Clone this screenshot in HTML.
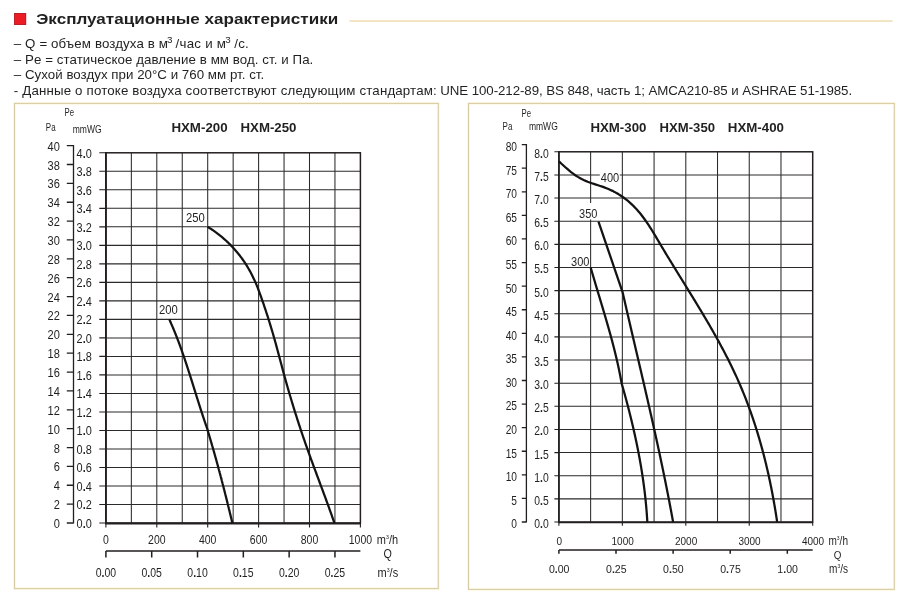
<!DOCTYPE html><html><head><meta charset="utf-8"><style>html,body{margin:0;padding:0;background:#fff;width:903px;height:597px;overflow:hidden}svg{display:block}text{filter:grayscale(1)}text{font-family:'Liberation Sans', sans-serif}</style></head><body>
<svg width="903" height="597" viewBox="0 0 903 597">
<rect width="903" height="597" fill="#fff"/>
<rect x="14.1" y="13" width="12" height="12" fill="#ec1c24"/>
<rect x="14.5" y="13.4" width="11.2" height="11.2" fill="none" stroke="#b01e2a" stroke-width="0.8"/>
<text x="36.20" y="24.10" text-anchor="start" font-size="15.0" font-weight="bold" fill="#231f20" textLength="302.00" lengthAdjust="spacingAndGlyphs">Эксплуатационные характеристики</text>
<line x1="349.5" y1="21" x2="892.6" y2="21" stroke="#eddcb0" stroke-width="1.6"/>
<text x="13.80" y="47.60" font-size="13.3" fill="#231f20" textLength="154.10" lengthAdjust="spacing">– Q = объем воздуха в м</text>
<text x="167.00" y="43.40" text-anchor="start" font-size="9.8" font-weight="normal" fill="#231f20">3</text>
<text x="175.60" y="47.60" font-size="13.3" fill="#231f20" textLength="50.40" lengthAdjust="spacing">/час и м</text>
<text x="225.30" y="43.40" text-anchor="start" font-size="9.8" font-weight="normal" fill="#231f20">3</text>
<text x="234.20" y="47.60" font-size="13.3" fill="#231f20" textLength="14.60" lengthAdjust="spacing">/с.</text>
<text x="13.80" y="63.50" font-size="13.3" fill="#231f20" textLength="299.50" lengthAdjust="spacing">– Pe = статическое давление в мм вод. ст. и Па.</text>
<text x="13.80" y="78.60" font-size="13.3" fill="#231f20" textLength="250.40" lengthAdjust="spacing">– Сухой воздух при 20°C и 760 мм рт. ст.</text>
<text x="13.80" y="94.60" font-size="13.3" fill="#231f20" textLength="423.00" lengthAdjust="spacing">- Данные о потоке воздуха соответствуют следующим стандартам:</text>
<text x="440.20" y="94.60" font-size="13.3" fill="#231f20" textLength="411.90" lengthAdjust="spacing">UNE 100-212-89, BS 848, часть 1; AMCA210-85 и ASHRAE 51-1985.</text>
<rect x="14.5" y="103.4" width="423.8" height="485.2" fill="#fff" stroke="#fcf7e0" stroke-width="2.6"/>
<rect x="14.5" y="103.4" width="423.8" height="485.2" fill="none" stroke="#d6caa2" stroke-width="1"/>
<rect x="468.5" y="103.4" width="425.8" height="486" fill="#fff" stroke="#fcf7e0" stroke-width="2.6"/>
<rect x="468.5" y="103.4" width="425.8" height="486" fill="none" stroke="#d6caa2" stroke-width="1"/>
<path d="M131.35,152.80V523.00 M156.80,152.80V523.00 M182.25,152.80V523.00 M207.70,152.80V523.00 M233.15,152.80V523.00 M258.60,152.80V523.00 M284.05,152.80V523.00 M309.50,152.80V523.00 M334.95,152.80V523.00 M105.90,504.49H360.40 M105.90,485.98H360.40 M105.90,467.47H360.40 M105.90,448.96H360.40 M105.90,430.45H360.40 M105.90,411.94H360.40 M105.90,393.43H360.40 M105.90,374.92H360.40 M105.90,356.41H360.40 M105.90,337.90H360.40 M105.90,319.39H360.40 M105.90,300.88H360.40 M105.90,282.37H360.40 M105.90,263.86H360.40 M105.90,245.35H360.40 M105.90,226.84H360.40 M105.90,208.33H360.40 M105.90,189.82H360.40 M105.90,171.31H360.40" stroke="#2b2b2b" stroke-width="1.05" fill="none"/>
<path d="M99.30,523.00H105.90 M99.30,504.49H105.90 M99.30,485.98H105.90 M99.30,467.47H105.90 M99.30,448.96H105.90 M99.30,430.45H105.90 M99.30,411.94H105.90 M99.30,393.43H105.90 M99.30,374.92H105.90 M99.30,356.41H105.90 M99.30,337.90H105.90 M99.30,319.39H105.90 M99.30,300.88H105.90 M99.30,282.37H105.90 M99.30,263.86H105.90 M99.30,245.35H105.90 M99.30,226.84H105.90 M99.30,208.33H105.90 M99.30,189.82H105.90 M99.30,171.31H105.90 M99.30,152.80H105.90 M105.90,523.00V527.60 M156.80,523.00V527.60 M207.70,523.00V527.60 M258.60,523.00V527.60 M309.50,523.00V527.60 M360.40,523.00V527.60" stroke="#231f20" stroke-width="1.1" fill="none"/>
<rect x="105.90" y="152.80" width="254.50" height="370.20" stroke="#231f20" stroke-width="1.5" fill="none"/>
<path d="M105.90,152.30V523.50H360.40" stroke="#231f20" stroke-width="1.8" fill="none"/>
<path d="M73.50,145.03V523.60 M66.80,523.00H73.50 M66.80,504.13H73.50 M66.80,485.26H73.50 M66.80,466.39H73.50 M66.80,447.53H73.50 M66.80,428.66H73.50 M66.80,409.79H73.50 M66.80,390.92H73.50 M66.80,372.05H73.50 M66.80,353.18H73.50 M66.80,334.31H73.50 M66.80,315.45H73.50 M66.80,296.58H73.50 M66.80,277.71H73.50 M66.80,258.84H73.50 M66.80,239.97H73.50 M66.80,221.10H73.50 M66.80,202.24H73.50 M66.80,183.37H73.50 M66.80,164.50H73.50 M66.80,145.63H73.50" stroke="#231f20" stroke-width="1.3" fill="none"/>
<text transform="translate(59.80,528.00) scale(0.85,1)" text-anchor="end" font-size="13.0" font-weight="normal" fill="#231f20">0</text>
<text transform="translate(59.80,509.13) scale(0.85,1)" text-anchor="end" font-size="13.0" font-weight="normal" fill="#231f20">2</text>
<text transform="translate(59.80,490.26) scale(0.85,1)" text-anchor="end" font-size="13.0" font-weight="normal" fill="#231f20">4</text>
<text transform="translate(59.80,471.39) scale(0.85,1)" text-anchor="end" font-size="13.0" font-weight="normal" fill="#231f20">6</text>
<text transform="translate(59.80,452.53) scale(0.85,1)" text-anchor="end" font-size="13.0" font-weight="normal" fill="#231f20">8</text>
<text transform="translate(59.80,433.66) scale(0.85,1)" text-anchor="end" font-size="13.0" font-weight="normal" fill="#231f20">10</text>
<text transform="translate(59.80,414.79) scale(0.85,1)" text-anchor="end" font-size="13.0" font-weight="normal" fill="#231f20">12</text>
<text transform="translate(59.80,395.92) scale(0.85,1)" text-anchor="end" font-size="13.0" font-weight="normal" fill="#231f20">14</text>
<text transform="translate(59.80,377.05) scale(0.85,1)" text-anchor="end" font-size="13.0" font-weight="normal" fill="#231f20">16</text>
<text transform="translate(59.80,358.18) scale(0.85,1)" text-anchor="end" font-size="13.0" font-weight="normal" fill="#231f20">18</text>
<text transform="translate(59.80,339.31) scale(0.85,1)" text-anchor="end" font-size="13.0" font-weight="normal" fill="#231f20">20</text>
<text transform="translate(59.80,320.45) scale(0.85,1)" text-anchor="end" font-size="13.0" font-weight="normal" fill="#231f20">22</text>
<text transform="translate(59.80,301.58) scale(0.85,1)" text-anchor="end" font-size="13.0" font-weight="normal" fill="#231f20">24</text>
<text transform="translate(59.80,282.71) scale(0.85,1)" text-anchor="end" font-size="13.0" font-weight="normal" fill="#231f20">26</text>
<text transform="translate(59.80,263.84) scale(0.85,1)" text-anchor="end" font-size="13.0" font-weight="normal" fill="#231f20">28</text>
<text transform="translate(59.80,244.97) scale(0.85,1)" text-anchor="end" font-size="13.0" font-weight="normal" fill="#231f20">30</text>
<text transform="translate(59.80,226.10) scale(0.85,1)" text-anchor="end" font-size="13.0" font-weight="normal" fill="#231f20">32</text>
<text transform="translate(59.80,207.24) scale(0.85,1)" text-anchor="end" font-size="13.0" font-weight="normal" fill="#231f20">34</text>
<text transform="translate(59.80,188.37) scale(0.85,1)" text-anchor="end" font-size="13.0" font-weight="normal" fill="#231f20">36</text>
<text transform="translate(59.80,169.50) scale(0.85,1)" text-anchor="end" font-size="13.0" font-weight="normal" fill="#231f20">38</text>
<text transform="translate(59.80,150.63) scale(0.85,1)" text-anchor="end" font-size="13.0" font-weight="normal" fill="#231f20">40</text>
<text transform="translate(76.60,527.90) scale(0.84,1)" text-anchor="start" font-size="13.0" font-weight="normal" fill="#231f20">0<tspan font-weight="bold">.</tspan>0</text>
<text transform="translate(76.60,509.39) scale(0.84,1)" text-anchor="start" font-size="13.0" font-weight="normal" fill="#231f20">0<tspan font-weight="bold">.</tspan>2</text>
<text transform="translate(76.60,490.88) scale(0.84,1)" text-anchor="start" font-size="13.0" font-weight="normal" fill="#231f20">0<tspan font-weight="bold">.</tspan>4</text>
<text transform="translate(76.60,472.37) scale(0.84,1)" text-anchor="start" font-size="13.0" font-weight="normal" fill="#231f20">0<tspan font-weight="bold">.</tspan>6</text>
<text transform="translate(76.60,453.86) scale(0.84,1)" text-anchor="start" font-size="13.0" font-weight="normal" fill="#231f20">0<tspan font-weight="bold">.</tspan>8</text>
<text transform="translate(76.60,435.35) scale(0.84,1)" text-anchor="start" font-size="13.0" font-weight="normal" fill="#231f20">1<tspan font-weight="bold">.</tspan>0</text>
<text transform="translate(76.60,416.84) scale(0.84,1)" text-anchor="start" font-size="13.0" font-weight="normal" fill="#231f20">1<tspan font-weight="bold">.</tspan>2</text>
<text transform="translate(76.60,398.33) scale(0.84,1)" text-anchor="start" font-size="13.0" font-weight="normal" fill="#231f20">1<tspan font-weight="bold">.</tspan>4</text>
<text transform="translate(76.60,379.82) scale(0.84,1)" text-anchor="start" font-size="13.0" font-weight="normal" fill="#231f20">1<tspan font-weight="bold">.</tspan>6</text>
<text transform="translate(76.60,361.31) scale(0.84,1)" text-anchor="start" font-size="13.0" font-weight="normal" fill="#231f20">1<tspan font-weight="bold">.</tspan>8</text>
<text transform="translate(76.60,342.80) scale(0.84,1)" text-anchor="start" font-size="13.0" font-weight="normal" fill="#231f20">2<tspan font-weight="bold">.</tspan>0</text>
<text transform="translate(76.60,324.29) scale(0.84,1)" text-anchor="start" font-size="13.0" font-weight="normal" fill="#231f20">2<tspan font-weight="bold">.</tspan>2</text>
<text transform="translate(76.60,305.78) scale(0.84,1)" text-anchor="start" font-size="13.0" font-weight="normal" fill="#231f20">2<tspan font-weight="bold">.</tspan>4</text>
<text transform="translate(76.60,287.27) scale(0.84,1)" text-anchor="start" font-size="13.0" font-weight="normal" fill="#231f20">2<tspan font-weight="bold">.</tspan>6</text>
<text transform="translate(76.60,268.76) scale(0.84,1)" text-anchor="start" font-size="13.0" font-weight="normal" fill="#231f20">2<tspan font-weight="bold">.</tspan>8</text>
<text transform="translate(76.60,250.25) scale(0.84,1)" text-anchor="start" font-size="13.0" font-weight="normal" fill="#231f20">3<tspan font-weight="bold">.</tspan>0</text>
<text transform="translate(76.60,231.74) scale(0.84,1)" text-anchor="start" font-size="13.0" font-weight="normal" fill="#231f20">3<tspan font-weight="bold">.</tspan>2</text>
<text transform="translate(76.60,213.23) scale(0.84,1)" text-anchor="start" font-size="13.0" font-weight="normal" fill="#231f20">3<tspan font-weight="bold">.</tspan>4</text>
<text transform="translate(76.60,194.72) scale(0.84,1)" text-anchor="start" font-size="13.0" font-weight="normal" fill="#231f20">3<tspan font-weight="bold">.</tspan>6</text>
<text transform="translate(76.60,176.21) scale(0.84,1)" text-anchor="start" font-size="13.0" font-weight="normal" fill="#231f20">3<tspan font-weight="bold">.</tspan>8</text>
<text transform="translate(76.60,157.70) scale(0.84,1)" text-anchor="start" font-size="13.0" font-weight="normal" fill="#231f20">4<tspan font-weight="bold">.</tspan>0</text>
<text transform="translate(105.90,544.10) scale(0.82,1)" text-anchor="middle" font-size="12.8" font-weight="normal" fill="#231f20">0</text>
<text transform="translate(156.80,544.10) scale(0.82,1)" text-anchor="middle" font-size="12.8" font-weight="normal" fill="#231f20">200</text>
<text transform="translate(207.70,544.10) scale(0.82,1)" text-anchor="middle" font-size="12.8" font-weight="normal" fill="#231f20">400</text>
<text transform="translate(258.60,544.10) scale(0.82,1)" text-anchor="middle" font-size="12.8" font-weight="normal" fill="#231f20">600</text>
<text transform="translate(309.50,544.10) scale(0.82,1)" text-anchor="middle" font-size="12.8" font-weight="normal" fill="#231f20">800</text>
<text transform="translate(360.40,544.10) scale(0.82,1)" text-anchor="middle" font-size="12.8" font-weight="normal" fill="#231f20">1000</text>
<path d="M105.90,551.00H360.40 M105.90,551.00V557.60 M151.71,551.00V557.60 M197.52,551.00V557.60 M243.33,551.00V557.60 M289.14,551.00V557.60 M334.95,551.00V557.60" stroke="#231f20" stroke-width="1.5" fill="none"/>
<text transform="translate(105.90,576.70) scale(0.82,1)" text-anchor="middle" font-size="12.8" font-weight="normal" fill="#231f20">0<tspan font-weight="bold">.</tspan>00</text>
<text transform="translate(151.71,576.70) scale(0.82,1)" text-anchor="middle" font-size="12.8" font-weight="normal" fill="#231f20">0<tspan font-weight="bold">.</tspan>05</text>
<text transform="translate(197.52,576.70) scale(0.82,1)" text-anchor="middle" font-size="12.8" font-weight="normal" fill="#231f20">0<tspan font-weight="bold">.</tspan>10</text>
<text transform="translate(243.33,576.70) scale(0.82,1)" text-anchor="middle" font-size="12.8" font-weight="normal" fill="#231f20">0<tspan font-weight="bold">.</tspan>15</text>
<text transform="translate(289.14,576.70) scale(0.82,1)" text-anchor="middle" font-size="12.8" font-weight="normal" fill="#231f20">0<tspan font-weight="bold">.</tspan>20</text>
<text transform="translate(334.95,576.70) scale(0.82,1)" text-anchor="middle" font-size="12.8" font-weight="normal" fill="#231f20">0<tspan font-weight="bold">.</tspan>25</text>
<text transform="translate(376.80,544.10) scale(0.88,1)" text-anchor="start" font-size="12.5" font-weight="normal" fill="#231f20">m<tspan font-size="6" dy="-5">3</tspan><tspan dy="5">/h</tspan></text>
<text transform="translate(387.70,558.30) scale(0.88,1)" text-anchor="middle" font-size="12.2" font-weight="normal" fill="#231f20">Q</text>
<text transform="translate(377.50,576.70) scale(0.88,1)" text-anchor="start" font-size="12.5" font-weight="normal" fill="#231f20">m<tspan font-size="6" dy="-5">3</tspan><tspan dy="5">/s</tspan></text>
<text transform="translate(64.60,115.90) scale(0.72,1)" text-anchor="start" font-size="10.8" font-weight="normal" fill="#231f20">Pe</text>
<text transform="translate(45.80,130.60) scale(0.74,1)" text-anchor="start" font-size="10.8" font-weight="normal" fill="#231f20">Pa</text>
<text transform="translate(72.70,132.60) scale(0.79,1)" text-anchor="start" font-size="10.8" font-weight="normal" fill="#231f20">mmWG</text>
<text x="171.40" y="132.20" text-anchor="start" font-size="13" font-weight="bold" fill="#231f20" textLength="56.20" lengthAdjust="spacingAndGlyphs">HXM-200</text>
<text x="240.50" y="132.20" text-anchor="start" font-size="13" font-weight="bold" fill="#231f20" textLength="56.00" lengthAdjust="spacingAndGlyphs">HXM-250</text>
<path d="M169.26,319.29 L169.51,319.83 L169.75,320.36 L169.99,320.90 L170.23,321.44 L170.47,321.98 L170.71,322.52 L170.95,323.06 L171.19,323.60 L171.42,324.15 L171.66,324.69 L171.89,325.23 L172.13,325.77 L172.36,326.32 L172.59,326.86 L172.82,327.40 L173.05,327.95 L173.28,328.49 L173.51,329.04 L173.73,329.58 L173.96,330.13 L174.18,330.67 L174.41,331.22 L174.63,331.77 L174.85,332.32 L175.07,332.86 L175.29,333.41 L175.51,333.96 L175.73,334.51 L175.95,335.06 L176.17,335.61 L176.38,336.16 L176.60,336.71 L176.81,337.26 L177.03,337.81 L177.24,338.36 L177.45,338.91 L177.66,339.46 L177.87,340.01 L178.08,340.56 L178.29,341.12 L178.50,341.67 L178.71,342.22 L178.92,342.77 L179.12,343.33 L179.33,343.88 L179.53,344.44 L179.74,344.99 L179.94,345.55 L180.14,346.10 L180.35,346.66 L180.55,347.21 L180.75,347.77 L180.95,348.32 L181.15,348.88 L181.35,349.44 L181.54,349.99 L181.74,350.55 L181.94,351.11 L182.14,351.66 L182.33,352.22 L182.53,352.78 L182.72,353.34 L182.92,353.90 L183.11,354.45 L183.30,355.01 L183.50,355.57 L183.69,356.13 L183.88,356.69 L184.07,357.25 L184.26,357.81 L184.45,358.37 L184.64,358.93 L184.83,359.49 L185.02,360.05 L185.21,360.61 L185.40,361.17 L185.58,361.73 L185.77,362.29 L185.96,362.86 L186.14,363.42 L186.33,363.98 L186.52,364.54 L186.70,365.10 L186.89,365.66 L187.07,366.23 L187.25,366.79 L187.44,367.35 L187.62,367.91 L187.80,368.48 L187.99,369.04 L188.17,369.60 L188.35,370.17 L188.53,370.73 L188.71,371.29 L188.89,371.86 L189.08,372.42 L189.26,372.98 L189.44,373.55 L189.62,374.11 L189.80,374.68 L189.98,375.24 L190.16,375.80 L190.33,376.37 L190.51,376.93 L190.69,377.50 L190.87,378.06 L191.05,378.63 L191.23,379.19 L191.41,379.76 L191.58,380.32 L191.76,380.89 L191.94,381.45 L192.12,382.02 L192.29,382.58 L192.47,383.15 L192.65,383.71 L192.83,384.28 L193.00,384.84 L193.18,385.41 L193.36,385.97 L193.53,386.54 L193.71,387.10 L193.89,387.67 L194.06,388.23 L194.24,388.80 L194.42,389.36 L194.59,389.93 L194.77,390.49 L194.95,391.06 L195.12,391.62 L195.30,392.19 L195.48,392.75 L195.65,393.32 L195.83,393.88 L196.01,394.45 L196.18,395.01 L196.36,395.58 L196.54,396.14 L196.71,396.71 L196.89,397.27 L197.07,397.84 L197.25,398.40 L197.42,398.97 L197.60,399.53 L197.78,400.10 L197.96,400.66 L198.14,401.23 L198.31,401.79 L198.49,402.36 L198.67,402.92 L198.85,403.48 L199.03,404.05 L199.21,404.61 L199.39,405.18 L199.57,405.74 L199.75,406.30 L199.93,406.87 L200.11,407.43 L200.29,407.99 L200.47,408.56 L200.65,409.12 L200.83,409.68 L201.01,410.25 L201.20,410.81 L201.38,411.37 L201.56,411.94 L201.74,412.50 L201.93,413.06 L202.11,413.62 L202.30,414.18 L202.48,414.75 L202.66,415.31 L202.85,415.87 L203.04,416.43 L203.22,416.99 L203.41,417.55 L203.59,418.11 L203.78,418.67 L203.97,419.23 L204.16,419.79 L204.35,420.35 L204.54,420.91 L204.72,421.47 L204.91,422.03 L205.10,422.59 L205.30,423.15 L205.49,423.71 L205.68,424.27 L205.87,424.83 L206.06,425.39 L206.26,425.94 L206.45,426.50 L206.65,427.06 L206.84,427.62 L207.04,428.17 L207.23,428.73 L207.43,429.29 L207.63,429.84 L207.83,430.40 L207.81,430.92 L207.95,431.38 L208.09,431.84 L208.23,432.30 L208.37,432.76 L208.51,433.22 L208.65,433.68 L208.79,434.14 L208.93,434.61 L209.07,435.07 L209.20,435.53 L209.34,435.99 L209.48,436.45 L209.62,436.91 L209.76,437.37 L209.89,437.83 L210.03,438.30 L210.17,438.76 L210.30,439.22 L210.44,439.68 L210.58,440.14 L210.71,440.60 L210.85,441.07 L210.98,441.53 L211.12,441.99 L211.26,442.45 L211.39,442.91 L211.53,443.38 L211.66,443.84 L211.80,444.30 L211.93,444.76 L212.06,445.23 L212.20,445.69 L212.33,446.15 L212.47,446.61 L212.60,447.08 L212.73,447.54 L212.87,448.00 L213.00,448.46 L213.13,448.93 L213.26,449.39 L213.40,449.85 L213.53,450.31 L213.66,450.78 L213.79,451.24 L213.93,451.70 L214.06,452.17 L214.19,452.63 L214.32,453.09 L214.45,453.56 L214.58,454.02 L214.71,454.48 L214.84,454.95 L214.97,455.41 L215.10,455.87 L215.23,456.34 L215.36,456.80 L215.49,457.26 L215.62,457.73 L215.75,458.19 L215.88,458.65 L216.01,459.12 L216.14,459.58 L216.27,460.05 L216.40,460.51 L216.52,460.97 L216.65,461.44 L216.78,461.90 L216.91,462.37 L217.04,462.83 L217.16,463.29 L217.29,463.76 L217.42,464.22 L217.55,464.69 L217.67,465.15 L217.80,465.62 L217.93,466.08 L218.05,466.54 L218.18,467.01 L218.30,467.47 L218.43,467.94 L218.56,468.40 L218.68,468.87 L218.81,469.33 L218.93,469.80 L219.06,470.26 L219.18,470.73 L219.31,471.19 L219.43,471.66 L219.56,472.12 L219.68,472.59 L219.81,473.05 L219.93,473.52 L220.05,473.98 L220.18,474.45 L220.30,474.91 L220.43,475.38 L220.55,475.84 L220.67,476.31 L220.80,476.77 L220.92,477.24 L221.04,477.70 L221.16,478.17 L221.29,478.63 L221.41,479.10 L221.53,479.57 L221.65,480.03 L221.77,480.50 L221.90,480.96 L222.02,481.43 L222.14,481.89 L222.26,482.36 L222.38,482.83 L222.50,483.29 L222.62,483.76 L222.75,484.22 L222.87,484.69 L222.99,485.16 L223.11,485.62 L223.23,486.09 L223.35,486.55 L223.47,487.02 L223.59,487.49 L223.71,487.95 L223.83,488.42 L223.95,488.88 L224.07,489.35 L224.19,489.82 L224.31,490.28 L224.42,490.75 L224.54,491.22 L224.66,491.68 L224.78,492.15 L224.90,492.62 L225.02,493.08 L225.14,493.55 L225.25,494.02 L225.37,494.48 L225.49,494.95 L225.61,495.42 L225.73,495.88 L225.84,496.35 L225.96,496.82 L226.08,497.28 L226.19,497.75 L226.31,498.22 L226.43,498.68 L226.55,499.15 L226.66,499.62 L226.78,500.09 L226.90,500.55 L227.01,501.02 L227.13,501.49 L227.24,501.95 L227.36,502.42 L227.48,502.89 L227.59,503.36 L227.71,503.82 L227.82,504.29 L227.94,504.76 L228.05,505.23 L228.17,505.69 L228.28,506.16 L228.40,506.63 L228.51,507.10 L228.63,507.56 L228.74,508.03 L228.86,508.50 L228.97,508.97 L229.09,509.43 L229.20,509.90 L229.32,510.37 L229.43,510.84 L229.54,511.30 L229.66,511.77 L229.77,512.24 L229.89,512.71 L230.00,513.18 L230.11,513.64 L230.23,514.11 L230.34,514.58 L230.45,515.05 L230.57,515.52 L230.68,515.98 L230.79,516.45 L230.90,516.92 L231.02,517.39 L231.13,517.86 L231.24,518.32 L231.36,518.79 L231.47,519.26 L231.58,519.73 L231.69,520.20 L231.80,520.66 L231.92,521.13 L232.03,521.60 L232.14,522.07 L232.25,522.54 L232.36,523.01" stroke="#141213" stroke-width="2.25" fill="none" stroke-linecap="butt" stroke-linejoin="round"/>
<path d="M207.68,226.87 L209.08,227.73 L210.47,228.61 L211.84,229.52 L213.21,230.44 L214.56,231.38 L215.90,232.35 L217.22,233.33 L218.53,234.33 L219.83,235.35 L221.12,236.39 L222.38,237.45 L223.64,238.53 L224.88,239.62 L226.11,240.73 L227.32,241.86 L228.51,243.00 L229.69,244.16 L230.85,245.34 L232.00,246.53 L233.13,247.74 L234.24,248.97 L235.33,250.20 L236.41,251.46 L237.47,252.73 L238.51,254.01 L239.54,255.30 L240.54,256.61 L241.53,257.93 L242.49,259.27 L243.44,260.62 L244.37,261.98 L245.28,263.35 L246.17,264.73 L247.04,266.13 L247.88,267.54 L248.71,268.95 L249.52,270.38 L250.31,271.82 L251.09,273.27 L251.84,274.72 L252.58,276.19 L253.30,277.66 L254.00,279.15 L254.68,280.64 L255.35,282.14 L256.00,283.65 L256.63,285.16 L257.25,286.68 L257.85,288.21 L258.45,289.74 L259.03,291.28 L259.60,292.82 L260.16,294.36 L260.72,295.91 L261.27,297.46 L261.81,299.02 L262.36,300.57 L262.89,302.13 L263.43,303.69 L263.96,305.25 L264.48,306.81 L265.01,308.37 L265.53,309.94 L266.04,311.51 L266.56,313.07 L267.07,314.64 L267.57,316.21 L268.07,317.78 L268.57,319.35 L269.07,320.93 L269.56,322.50 L270.04,324.08 L270.53,325.65 L271.01,327.23 L271.48,328.81 L271.96,330.39 L272.42,331.97 L272.89,333.55 L273.35,335.14 L273.80,336.72 L274.26,338.31 L274.70,339.89 L275.15,341.48 L275.59,343.07 L276.03,344.65 L276.46,346.24 L276.90,347.83 L277.33,349.42 L277.76,351.01 L278.18,352.60 L278.61,354.19 L279.03,355.78 L279.46,357.37 L279.88,358.97 L280.30,360.56 L280.72,362.15 L281.15,363.74 L281.57,365.33 L281.99,366.92 L282.42,368.51 L282.85,370.10 L283.27,371.69 L283.70,373.28 L284.14,374.87 L284.57,376.46 L285.01,378.05 L285.45,379.63 L285.89,381.22 L286.34,382.80 L286.79,384.39 L287.24,385.97 L287.69,387.56 L288.14,389.14 L288.60,390.72 L289.06,392.31 L289.53,393.89 L289.99,395.47 L290.46,397.05 L290.93,398.63 L291.40,400.20 L291.88,401.78 L292.36,403.36 L292.84,404.94 L293.32,406.51 L293.81,408.09 L294.29,409.66 L294.78,411.23 L295.28,412.81 L295.77,414.38 L296.27,415.95 L296.77,417.52 L297.27,419.09 L297.78,420.66 L298.29,422.22 L298.80,423.79 L299.31,425.36 L299.83,426.92 L300.34,428.49 L300.86,430.05 L301.39,431.61 L301.91,433.18 L302.44,434.74 L302.97,436.30 L303.50,437.86 L304.04,439.41 L304.58,440.97 L305.12,442.53 L305.66,444.08 L306.20,445.64 L306.75,447.19 L307.30,448.75 L307.85,450.30 L308.41,451.85 L308.96,453.40 L309.52,454.95 L310.08,456.50 L310.64,458.04 L311.21,459.59 L311.77,461.14 L312.34,462.68 L312.91,464.23 L313.48,465.77 L314.05,467.32 L314.62,468.86 L315.20,470.41 L315.77,471.95 L316.35,473.49 L316.92,475.04 L317.50,476.58 L318.07,478.12 L318.65,479.67 L319.23,481.21 L319.80,482.75 L320.38,484.29 L320.95,485.84 L321.53,487.38 L322.10,488.92 L322.68,490.47 L323.25,492.01 L323.83,493.55 L324.40,495.10 L324.97,496.64 L325.54,498.19 L326.11,499.74 L326.67,501.28 L327.24,502.83 L327.80,504.38 L328.36,505.93 L328.92,507.47 L329.48,509.02 L330.03,510.58 L330.59,512.13 L331.14,513.68 L331.69,515.23 L332.23,516.79 L332.78,518.34 L333.32,519.90 L333.85,521.46 L334.39,523.02" stroke="#141213" stroke-width="2.25" fill="none" stroke-linecap="butt" stroke-linejoin="round"/>
<text transform="translate(158.90,314.30) scale(0.9,1)" text-anchor="start" font-size="12.5" font-weight="normal" fill="#231f20">200</text>
<text transform="translate(186.00,221.80) scale(0.9,1)" text-anchor="start" font-size="12.5" font-weight="normal" fill="#231f20">250</text>
<path d="M590.62,151.80V522.00 M622.35,151.80V522.00 M654.08,151.80V522.00 M685.80,151.80V522.00 M717.52,151.80V522.00 M749.25,151.80V522.00 M780.98,151.80V522.00 M558.90,498.86H812.70 M558.90,475.73H812.70 M558.90,452.59H812.70 M558.90,429.45H812.70 M558.90,406.31H812.70 M558.90,383.18H812.70 M558.90,360.04H812.70 M558.90,336.90H812.70 M558.90,313.76H812.70 M558.90,290.62H812.70 M558.90,267.49H812.70 M558.90,244.35H812.70 M558.90,221.21H812.70 M558.90,198.07H812.70 M558.90,174.94H812.70" stroke="#2b2b2b" stroke-width="1.05" fill="none"/>
<path d="M554.40,522.00H558.90 M554.40,498.86H558.90 M554.40,475.73H558.90 M554.40,452.59H558.90 M554.40,429.45H558.90 M554.40,406.31H558.90 M554.40,383.18H558.90 M554.40,360.04H558.90 M554.40,336.90H558.90 M554.40,313.76H558.90 M554.40,290.62H558.90 M554.40,267.49H558.90 M554.40,244.35H558.90 M554.40,221.21H558.90 M554.40,198.07H558.90 M554.40,174.94H558.90 M554.40,151.80H558.90 M558.90,522.00V525.80 M622.35,522.00V525.80 M685.80,522.00V525.80 M749.25,522.00V525.80 M812.70,522.00V525.80" stroke="#231f20" stroke-width="1.1" fill="none"/>
<rect x="558.90" y="151.80" width="253.80" height="370.20" stroke="#231f20" stroke-width="1.5" fill="none"/>
<path d="M558.90,151.30V522.50H812.70" stroke="#231f20" stroke-width="1.5" fill="none"/>
<path d="M526.40,144.03V522.60 M521.80,522.00H526.40 M521.80,498.41H526.40 M521.80,474.83H526.40 M521.80,451.24H526.40 M521.80,427.66H526.40 M521.80,404.07H526.40 M521.80,380.49H526.40 M521.80,356.90H526.40 M521.80,333.31H526.40 M521.80,309.73H526.40 M521.80,286.14H526.40 M521.80,262.56H526.40 M521.80,238.97H526.40 M521.80,215.39H526.40 M521.80,191.80H526.40 M521.80,168.22H526.40 M521.80,144.63H526.40" stroke="#231f20" stroke-width="1.3" fill="none"/>
<text transform="translate(517.00,528.40) scale(0.85,1)" text-anchor="end" font-size="12.0" font-weight="normal" fill="#231f20">0</text>
<text transform="translate(517.00,504.81) scale(0.85,1)" text-anchor="end" font-size="12.0" font-weight="normal" fill="#231f20">5</text>
<text transform="translate(517.00,481.23) scale(0.85,1)" text-anchor="end" font-size="12.0" font-weight="normal" fill="#231f20">10</text>
<text transform="translate(517.00,457.64) scale(0.85,1)" text-anchor="end" font-size="12.0" font-weight="normal" fill="#231f20">15</text>
<text transform="translate(517.00,434.06) scale(0.85,1)" text-anchor="end" font-size="12.0" font-weight="normal" fill="#231f20">20</text>
<text transform="translate(517.00,410.47) scale(0.85,1)" text-anchor="end" font-size="12.0" font-weight="normal" fill="#231f20">25</text>
<text transform="translate(517.00,386.89) scale(0.85,1)" text-anchor="end" font-size="12.0" font-weight="normal" fill="#231f20">30</text>
<text transform="translate(517.00,363.30) scale(0.85,1)" text-anchor="end" font-size="12.0" font-weight="normal" fill="#231f20">35</text>
<text transform="translate(517.00,339.71) scale(0.85,1)" text-anchor="end" font-size="12.0" font-weight="normal" fill="#231f20">40</text>
<text transform="translate(517.00,316.13) scale(0.85,1)" text-anchor="end" font-size="12.0" font-weight="normal" fill="#231f20">45</text>
<text transform="translate(517.00,292.54) scale(0.85,1)" text-anchor="end" font-size="12.0" font-weight="normal" fill="#231f20">50</text>
<text transform="translate(517.00,268.96) scale(0.85,1)" text-anchor="end" font-size="12.0" font-weight="normal" fill="#231f20">55</text>
<text transform="translate(517.00,245.37) scale(0.85,1)" text-anchor="end" font-size="12.0" font-weight="normal" fill="#231f20">60</text>
<text transform="translate(517.00,221.79) scale(0.85,1)" text-anchor="end" font-size="12.0" font-weight="normal" fill="#231f20">65</text>
<text transform="translate(517.00,198.20) scale(0.85,1)" text-anchor="end" font-size="12.0" font-weight="normal" fill="#231f20">70</text>
<text transform="translate(517.00,174.62) scale(0.85,1)" text-anchor="end" font-size="12.0" font-weight="normal" fill="#231f20">75</text>
<text transform="translate(517.00,151.03) scale(0.85,1)" text-anchor="end" font-size="12.0" font-weight="normal" fill="#231f20">80</text>
<text transform="translate(534.30,528.00) scale(0.85,1)" text-anchor="start" font-size="12.2" font-weight="normal" fill="#231f20">0<tspan font-weight="bold">.</tspan>0</text>
<text transform="translate(534.30,504.86) scale(0.85,1)" text-anchor="start" font-size="12.2" font-weight="normal" fill="#231f20">0<tspan font-weight="bold">.</tspan>5</text>
<text transform="translate(534.30,481.73) scale(0.85,1)" text-anchor="start" font-size="12.2" font-weight="normal" fill="#231f20">1<tspan font-weight="bold">.</tspan>0</text>
<text transform="translate(534.30,458.59) scale(0.85,1)" text-anchor="start" font-size="12.2" font-weight="normal" fill="#231f20">1<tspan font-weight="bold">.</tspan>5</text>
<text transform="translate(534.30,435.45) scale(0.85,1)" text-anchor="start" font-size="12.2" font-weight="normal" fill="#231f20">2<tspan font-weight="bold">.</tspan>0</text>
<text transform="translate(534.30,412.31) scale(0.85,1)" text-anchor="start" font-size="12.2" font-weight="normal" fill="#231f20">2<tspan font-weight="bold">.</tspan>5</text>
<text transform="translate(534.30,389.18) scale(0.85,1)" text-anchor="start" font-size="12.2" font-weight="normal" fill="#231f20">3<tspan font-weight="bold">.</tspan>0</text>
<text transform="translate(534.30,366.04) scale(0.85,1)" text-anchor="start" font-size="12.2" font-weight="normal" fill="#231f20">3<tspan font-weight="bold">.</tspan>5</text>
<text transform="translate(534.30,342.90) scale(0.85,1)" text-anchor="start" font-size="12.2" font-weight="normal" fill="#231f20">4<tspan font-weight="bold">.</tspan>0</text>
<text transform="translate(534.30,319.76) scale(0.85,1)" text-anchor="start" font-size="12.2" font-weight="normal" fill="#231f20">4<tspan font-weight="bold">.</tspan>5</text>
<text transform="translate(534.30,296.62) scale(0.85,1)" text-anchor="start" font-size="12.2" font-weight="normal" fill="#231f20">5<tspan font-weight="bold">.</tspan>0</text>
<text transform="translate(534.30,273.49) scale(0.85,1)" text-anchor="start" font-size="12.2" font-weight="normal" fill="#231f20">5<tspan font-weight="bold">.</tspan>5</text>
<text transform="translate(534.30,250.35) scale(0.85,1)" text-anchor="start" font-size="12.2" font-weight="normal" fill="#231f20">6<tspan font-weight="bold">.</tspan>0</text>
<text transform="translate(534.30,227.21) scale(0.85,1)" text-anchor="start" font-size="12.2" font-weight="normal" fill="#231f20">6<tspan font-weight="bold">.</tspan>5</text>
<text transform="translate(534.30,204.07) scale(0.85,1)" text-anchor="start" font-size="12.2" font-weight="normal" fill="#231f20">7<tspan font-weight="bold">.</tspan>0</text>
<text transform="translate(534.30,180.94) scale(0.85,1)" text-anchor="start" font-size="12.2" font-weight="normal" fill="#231f20">7<tspan font-weight="bold">.</tspan>5</text>
<text transform="translate(534.30,157.80) scale(0.85,1)" text-anchor="start" font-size="12.2" font-weight="normal" fill="#231f20">8<tspan font-weight="bold">.</tspan>0</text>
<text transform="translate(559.20,544.50) scale(0.87,1)" text-anchor="middle" font-size="11.5" font-weight="normal" fill="#231f20">0</text>
<text transform="translate(622.65,544.50) scale(0.87,1)" text-anchor="middle" font-size="11.5" font-weight="normal" fill="#231f20">1000</text>
<text transform="translate(686.10,544.50) scale(0.87,1)" text-anchor="middle" font-size="11.5" font-weight="normal" fill="#231f20">2000</text>
<text transform="translate(749.55,544.50) scale(0.87,1)" text-anchor="middle" font-size="11.5" font-weight="normal" fill="#231f20">3000</text>
<text transform="translate(813.00,544.50) scale(0.87,1)" text-anchor="middle" font-size="11.5" font-weight="normal" fill="#231f20">4000</text>
<path d="M558.90,550.00H812.70 M558.90,550.00V553.80 M616.00,550.00V553.80 M673.11,550.00V553.80 M730.22,550.00V553.80 M787.32,550.00V553.80" stroke="#231f20" stroke-width="1.5" fill="none"/>
<text transform="translate(559.20,572.80) scale(0.92,1)" text-anchor="middle" font-size="11.5" font-weight="normal" fill="#231f20">0<tspan font-weight="bold">.</tspan>00</text>
<text transform="translate(616.30,572.80) scale(0.92,1)" text-anchor="middle" font-size="11.5" font-weight="normal" fill="#231f20">0<tspan font-weight="bold">.</tspan>25</text>
<text transform="translate(673.41,572.80) scale(0.92,1)" text-anchor="middle" font-size="11.5" font-weight="normal" fill="#231f20">0<tspan font-weight="bold">.</tspan>50</text>
<text transform="translate(730.51,572.80) scale(0.92,1)" text-anchor="middle" font-size="11.5" font-weight="normal" fill="#231f20">0<tspan font-weight="bold">.</tspan>75</text>
<text transform="translate(787.62,572.80) scale(0.92,1)" text-anchor="middle" font-size="11.5" font-weight="normal" fill="#231f20">1<tspan font-weight="bold">.</tspan>00</text>
<text transform="translate(828.40,544.50) scale(0.84,1)" text-anchor="start" font-size="12.0" font-weight="normal" fill="#231f20">m<tspan font-size="6" dy="-5">3</tspan><tspan dy="5">/h</tspan></text>
<text transform="translate(837.50,558.60) scale(0.84,1)" text-anchor="middle" font-size="11.7" font-weight="normal" fill="#231f20">Q</text>
<text transform="translate(829.10,572.80) scale(0.84,1)" text-anchor="start" font-size="12.0" font-weight="normal" fill="#231f20">m<tspan font-size="6" dy="-5">3</tspan><tspan dy="5">/s</tspan></text>
<text transform="translate(521.50,116.70) scale(0.72,1)" text-anchor="start" font-size="10.8" font-weight="normal" fill="#231f20">Pe</text>
<text transform="translate(502.60,129.80) scale(0.74,1)" text-anchor="start" font-size="10.8" font-weight="normal" fill="#231f20">Pa</text>
<text transform="translate(528.90,129.80) scale(0.79,1)" text-anchor="start" font-size="10.8" font-weight="normal" fill="#231f20">mmWG</text>
<text x="590.40" y="132.20" text-anchor="start" font-size="13" font-weight="bold" fill="#231f20" textLength="56.00" lengthAdjust="spacingAndGlyphs">HXM-300</text>
<text x="659.60" y="132.20" text-anchor="start" font-size="13" font-weight="bold" fill="#231f20" textLength="55.40" lengthAdjust="spacingAndGlyphs">HXM-350</text>
<text x="727.80" y="132.20" text-anchor="start" font-size="13" font-weight="bold" fill="#231f20" textLength="56.20" lengthAdjust="spacingAndGlyphs">HXM-400</text>
<path d="M590.67,267.49 L590.84,268.07 L591.00,268.65 L591.17,269.23 L591.34,269.81 L591.50,270.39 L591.67,270.96 L591.84,271.54 L592.01,272.12 L592.17,272.70 L592.34,273.28 L592.51,273.85 L592.68,274.43 L592.85,275.01 L593.02,275.59 L593.19,276.17 L593.36,276.74 L593.53,277.32 L593.70,277.90 L593.87,278.48 L594.04,279.06 L594.21,279.63 L594.38,280.21 L594.55,280.79 L594.72,281.36 L594.89,281.94 L595.06,282.52 L595.23,283.10 L595.41,283.67 L595.58,284.25 L595.75,284.83 L595.92,285.41 L596.09,285.98 L596.27,286.56 L596.44,287.14 L596.61,287.71 L596.78,288.29 L596.96,288.87 L597.13,289.44 L597.30,290.02 L597.48,290.60 L597.65,291.17 L597.82,291.75 L598.00,292.33 L598.17,292.91 L598.34,293.48 L598.51,294.06 L598.69,294.64 L598.86,295.21 L599.04,295.79 L599.21,296.37 L599.38,296.94 L599.56,297.52 L599.73,298.10 L599.90,298.67 L600.08,299.25 L600.25,299.83 L600.42,300.40 L600.60,300.98 L600.77,301.56 L600.94,302.13 L601.11,302.71 L601.29,303.29 L601.46,303.86 L601.63,304.44 L601.81,305.02 L601.98,305.59 L602.15,306.17 L602.32,306.75 L602.50,307.33 L602.67,307.90 L602.84,308.48 L603.01,309.06 L603.18,309.63 L603.36,310.21 L603.53,310.79 L603.70,311.37 L603.87,311.94 L604.04,312.52 L604.21,313.10 L604.38,313.68 L604.55,314.25 L604.72,314.83 L604.89,315.41 L605.06,315.99 L605.23,316.56 L605.40,317.14 L605.57,317.72 L605.74,318.30 L605.91,318.87 L606.08,319.45 L606.25,320.03 L606.42,320.61 L606.58,321.19 L606.75,321.76 L606.92,322.34 L607.08,322.92 L607.25,323.50 L607.42,324.08 L607.58,324.66 L607.75,325.24 L607.92,325.81 L608.08,326.39 L608.25,326.97 L608.41,327.55 L608.57,328.13 L608.74,328.71 L608.90,329.29 L609.06,329.87 L609.23,330.45 L609.39,331.03 L609.55,331.61 L609.71,332.19 L609.87,332.77 L610.03,333.35 L610.20,333.93 L610.36,334.51 L610.51,335.09 L610.67,335.67 L610.83,336.25 L610.99,336.83 L611.15,337.41 L611.31,337.99 L611.46,338.57 L611.62,339.15 L611.78,339.73 L611.93,340.31 L612.09,340.90 L612.24,341.48 L612.40,342.06 L612.55,342.64 L612.70,343.22 L612.86,343.81 L613.01,344.39 L613.16,344.97 L613.31,345.55 L613.46,346.14 L613.61,346.72 L613.76,347.30 L613.91,347.88 L614.06,348.47 L614.20,349.05 L614.35,349.63 L614.50,350.22 L614.64,350.80 L614.79,351.39 L614.94,351.97 L615.08,352.55 L615.22,353.14 L615.37,353.72 L615.51,354.31 L615.65,354.89 L615.79,355.48 L615.93,356.06 L616.07,356.65 L616.21,357.23 L616.35,357.82 L616.49,358.41 L616.62,358.99 L616.76,359.58 L616.90,360.16 L617.03,360.75 L617.17,361.34 L617.30,361.92 L617.43,362.51 L617.57,363.10 L617.70,363.69 L617.83,364.27 L617.96,364.86 L618.09,365.45 L618.22,366.04 L618.34,366.63 L618.47,367.22 L618.60,367.80 L618.72,368.39 L618.85,368.98 L618.97,369.57 L619.10,370.16 L619.22,370.75 L619.34,371.34 L619.46,371.93 L619.58,372.52 L619.70,373.11 L619.82,373.70 L619.94,374.30 L620.05,374.89 L620.17,375.48 L620.28,376.07 L620.40,376.66 L620.51,377.26 L620.62,377.85 L620.73,378.44 L620.84,379.03 L620.95,379.63 L621.06,380.22 L621.17,380.81 L621.28,381.41 L621.38,382.00 L621.49,382.60 L621.59,383.19 L621.77,383.88 L621.97,384.56 L622.16,385.24 L622.36,385.93 L622.55,386.61 L622.75,387.30 L622.94,387.98 L623.13,388.66 L623.32,389.35 L623.52,390.03 L623.71,390.72 L623.90,391.40 L624.09,392.09 L624.28,392.77 L624.47,393.46 L624.66,394.14 L624.85,394.83 L625.04,395.52 L625.22,396.20 L625.41,396.89 L625.60,397.57 L625.78,398.26 L625.97,398.95 L626.15,399.63 L626.34,400.32 L626.52,401.01 L626.71,401.69 L626.89,402.38 L627.07,403.07 L627.25,403.76 L627.44,404.44 L627.62,405.13 L627.80,405.82 L627.98,406.51 L628.16,407.20 L628.33,407.89 L628.51,408.57 L628.69,409.26 L628.87,409.95 L629.04,410.64 L629.22,411.33 L629.39,412.02 L629.57,412.71 L629.74,413.40 L629.91,414.09 L630.09,414.78 L630.26,415.47 L630.43,416.16 L630.60,416.85 L630.77,417.54 L630.94,418.23 L631.11,418.92 L631.28,419.61 L631.45,420.30 L631.61,420.99 L631.78,421.68 L631.94,422.38 L632.11,423.07 L632.27,423.76 L632.44,424.45 L632.60,425.14 L632.76,425.83 L632.93,426.53 L633.09,427.22 L633.25,427.91 L633.41,428.61 L633.57,429.30 L633.73,429.99 L633.88,430.68 L634.04,431.38 L634.20,432.07 L634.35,432.76 L634.51,433.46 L634.66,434.15 L634.82,434.85 L634.97,435.54 L635.12,436.23 L635.27,436.93 L635.42,437.62 L635.57,438.32 L635.72,439.01 L635.87,439.71 L636.02,440.40 L636.17,441.10 L636.31,441.79 L636.46,442.49 L636.60,443.19 L636.75,443.88 L636.89,444.58 L637.03,445.27 L637.18,445.97 L637.32,446.67 L637.46,447.36 L637.60,448.06 L637.74,448.76 L637.88,449.45 L638.01,450.15 L638.15,450.85 L638.28,451.55 L638.42,452.24 L638.55,452.94 L638.69,453.64 L638.82,454.34 L638.95,455.04 L639.08,455.73 L639.21,456.43 L639.34,457.13 L639.47,457.83 L639.60,458.53 L639.73,459.23 L639.85,459.93 L639.98,460.63 L640.10,461.33 L640.23,462.03 L640.35,462.73 L640.47,463.43 L640.59,464.13 L640.71,464.83 L640.83,465.53 L640.95,466.23 L641.07,466.93 L641.19,467.63 L641.30,468.33 L641.42,469.03 L641.53,469.73 L641.64,470.43 L641.76,471.13 L641.87,471.84 L641.98,472.54 L642.09,473.24 L642.20,473.94 L642.31,474.64 L642.41,475.35 L642.52,476.05 L642.62,476.75 L642.73,477.45 L642.83,478.16 L642.94,478.86 L643.04,479.56 L643.14,480.27 L643.24,480.97 L643.34,481.67 L643.43,482.38 L643.53,483.08 L643.63,483.79 L643.72,484.49 L643.82,485.19 L643.91,485.90 L644.00,486.60 L644.09,487.31 L644.18,488.01 L644.27,488.72 L644.36,489.42 L644.45,490.13 L644.54,490.83 L644.62,491.54 L644.71,492.25 L644.79,492.95 L644.87,493.66 L644.95,494.36 L645.03,495.07 L645.11,495.78 L645.19,496.48 L645.27,497.19 L645.35,497.90 L645.42,498.60 L645.50,499.31 L645.57,500.02 L645.64,500.73 L645.71,501.43 L645.79,502.14 L645.85,502.85 L645.92,503.56 L645.99,504.27 L646.06,504.97 L646.12,505.68 L646.19,506.39 L646.25,507.10 L646.31,507.81 L646.37,508.52 L646.43,509.23 L646.49,509.94 L646.55,510.65 L646.61,511.36 L646.66,512.07 L646.72,512.78 L646.77,513.49 L646.82,514.20 L646.87,514.91 L646.92,515.62 L646.97,516.33 L647.02,517.04 L647.07,517.75 L647.11,518.46 L647.16,519.17 L647.20,519.88 L647.25,520.59 L647.29,521.31 L647.33,522.02" stroke="#141213" stroke-width="2.25" fill="none" stroke-linecap="butt" stroke-linejoin="round"/>
<path d="M598.49,221.68 L622.03,290.62 L622.50,291.74 L622.76,292.90 L623.02,294.06 L623.29,295.22 L623.55,296.38 L623.82,297.54 L624.08,298.70 L624.35,299.86 L624.62,301.02 L624.88,302.18 L625.15,303.34 L625.41,304.50 L625.68,305.66 L625.95,306.82 L626.22,307.98 L626.48,309.14 L626.75,310.30 L627.02,311.46 L627.29,312.62 L627.55,313.78 L627.82,314.94 L628.09,316.10 L628.36,317.26 L628.63,318.42 L628.90,319.58 L629.17,320.74 L629.44,321.90 L629.71,323.06 L629.97,324.22 L630.24,325.38 L630.51,326.54 L630.78,327.70 L631.05,328.86 L631.32,330.02 L631.59,331.18 L631.86,332.34 L632.13,333.50 L632.41,334.66 L632.68,335.82 L632.95,336.98 L633.22,338.14 L633.49,339.29 L633.76,340.45 L634.03,341.61 L634.30,342.77 L634.57,343.93 L634.84,345.09 L635.11,346.25 L635.38,347.41 L635.66,348.57 L635.93,349.73 L636.20,350.89 L636.47,352.05 L636.74,353.21 L637.01,354.37 L637.28,355.53 L637.55,356.69 L637.82,357.85 L638.09,359.01 L638.36,360.17 L638.64,361.33 L638.91,362.49 L639.18,363.64 L639.45,364.80 L639.72,365.96 L639.99,367.12 L640.26,368.28 L640.53,369.44 L640.80,370.60 L641.07,371.76 L641.34,372.92 L641.61,374.08 L641.88,375.24 L642.15,376.40 L642.42,377.56 L642.69,378.72 L642.96,379.88 L643.23,381.04 L643.50,382.20 L643.76,383.36 L644.03,384.52 L644.30,385.68 L644.57,386.84 L644.84,388.00 L645.11,389.16 L645.37,390.32 L645.64,391.48 L645.91,392.65 L646.18,393.81 L646.44,394.97 L646.71,396.13 L646.98,397.29 L647.24,398.45 L647.51,399.61 L647.78,400.77 L648.04,401.93 L648.31,403.09 L648.57,404.25 L648.84,405.41 L649.10,406.57 L649.37,407.74 L649.63,408.90 L649.89,410.06 L650.16,411.22 L650.42,412.38 L650.68,413.54 L650.95,414.70 L651.21,415.86 L651.47,417.03 L651.73,418.19 L651.99,419.35 L652.25,420.51 L652.52,421.67 L652.78,422.84 L653.04,424.00 L653.30,425.16 L653.56,426.32 L653.81,427.48 L654.07,428.65 L654.33,429.81 L654.59,430.97 L654.85,432.13 L655.10,433.30 L655.36,434.46 L655.62,435.62 L655.87,436.78 L656.13,437.95 L656.38,439.11 L656.64,440.27 L656.89,441.44 L657.15,442.60 L657.40,443.76 L657.65,444.93 L657.91,446.09 L658.16,447.25 L658.41,448.42 L658.66,449.58 L658.91,450.75 L659.16,451.91 L659.41,453.07 L659.66,454.24 L659.91,455.40 L660.16,456.57 L660.40,457.73 L660.65,458.90 L660.90,460.06 L661.14,461.23 L661.39,462.39 L661.64,463.56 L661.88,464.72 L662.12,465.89 L662.37,467.05 L662.61,468.22 L662.85,469.38 L663.09,470.55 L663.34,471.71 L663.58,472.88 L663.82,474.05 L664.06,475.21 L664.30,476.38 L664.53,477.55 L664.77,478.71 L665.01,479.88 L665.24,481.05 L665.48,482.21 L665.72,483.38 L665.95,484.55 L666.18,485.71 L666.42,486.88 L666.65,488.05 L666.88,489.22 L667.11,490.38 L667.34,491.55 L667.57,492.72 L667.80,493.89 L668.03,495.06 L668.26,496.23 L668.49,497.39 L668.71,498.56 L668.94,499.73 L669.17,500.90 L669.39,502.07 L669.61,503.24 L669.84,504.41 L670.06,505.58 L670.28,506.75 L670.50,507.92 L670.72,509.09 L670.94,510.26 L671.16,511.43 L671.38,512.60 L671.59,513.77 L671.81,514.94 L672.03,516.11 L672.24,517.28 L672.45,518.45 L672.67,519.62 L672.88,520.80 L673.09,521.97" stroke="#141213" stroke-width="2.25" fill="none" stroke-linecap="butt" stroke-linejoin="round"/>
<path d="M559.06,161.43 L560.69,162.96 L562.32,164.48 L563.97,166.00 L565.63,167.49 L567.31,168.96 L569.01,170.40 L570.73,171.80 L572.48,173.16 L574.26,174.46 L576.06,175.71 L577.90,176.89 L579.78,178.01 L581.69,179.04 L583.65,179.99 L585.64,180.87 L587.66,181.69 L589.71,182.46 L591.78,183.19 L593.87,183.89 L595.96,184.58 L598.07,185.26 L600.17,185.95 L602.26,186.66 L604.35,187.40 L606.42,188.18 L608.47,189.02 L610.50,189.91 L612.50,190.87 L614.47,191.88 L616.41,192.95 L618.32,194.08 L620.19,195.26 L622.03,196.49 L623.84,197.76 L625.61,199.09 L627.34,200.46 L629.03,201.87 L630.68,203.33 L632.28,204.82 L633.84,206.36 L635.36,207.93 L636.84,209.53 L638.28,211.16 L639.68,212.83 L641.05,214.52 L642.39,216.25 L643.70,217.99 L644.98,219.76 L646.24,221.55 L647.47,223.37 L648.69,225.20 L649.89,227.04 L651.07,228.90 L652.23,230.77 L653.39,232.65 L654.53,234.54 L655.67,236.44 L656.80,238.35 L657.93,240.25 L659.06,242.16 L660.18,244.07 L661.32,245.97 L662.45,247.88 L663.59,249.78 L664.73,251.68 L665.87,253.58 L667.02,255.47 L668.17,257.36 L669.32,259.26 L670.48,261.15 L671.63,263.04 L672.79,264.93 L673.95,266.81 L675.11,268.70 L676.27,270.58 L677.43,272.47 L678.59,274.35 L679.75,276.23 L680.92,278.12 L682.08,280.00 L683.24,281.88 L684.40,283.76 L685.57,285.64 L686.73,287.52 L687.89,289.41 L689.05,291.29 L690.21,293.17 L691.36,295.05 L692.52,296.93 L693.67,298.82 L694.82,300.70 L695.97,302.59 L697.12,304.47 L698.26,306.36 L699.40,308.25 L700.54,310.14 L701.68,312.03 L702.81,313.92 L703.93,315.82 L705.06,317.71 L706.18,319.61 L707.29,321.51 L708.41,323.41 L709.51,325.31 L710.62,327.22 L711.71,329.13 L712.81,331.04 L713.89,332.95 L714.97,334.87 L716.05,336.79 L717.12,338.71 L718.18,340.63 L719.24,342.56 L720.29,344.49 L721.33,346.43 L722.37,348.36 L723.40,350.30 L724.42,352.25 L725.44,354.20 L726.45,356.15 L727.45,358.10 L728.44,360.06 L729.42,362.03 L730.40,364.00 L731.36,365.97 L732.32,367.95 L733.27,369.93 L734.21,371.92 L735.14,373.91 L736.06,375.90 L736.97,377.90 L737.87,379.91 L738.76,381.92 L739.64,383.94 L740.51,385.96 L741.37,387.99 L742.22,390.02 L743.06,392.06 L743.89,394.10 L744.71,396.14 L745.52,398.20 L746.32,400.25 L747.11,402.31 L747.88,404.38 L748.65,406.45 L749.41,408.52 L750.16,410.60 L750.90,412.68 L751.63,414.77 L752.35,416.85 L753.06,418.95 L753.77,421.04 L754.46,423.14 L755.14,425.25 L755.81,427.36 L756.48,429.47 L757.13,431.58 L757.78,433.70 L758.42,435.82 L759.05,437.94 L759.67,440.06 L760.28,442.19 L760.88,444.32 L761.47,446.45 L762.06,448.59 L762.63,450.73 L763.20,452.87 L763.76,455.01 L764.31,457.15 L764.85,459.30 L765.38,461.44 L765.91,463.59 L766.42,465.74 L766.93,467.90 L767.43,470.05 L767.93,472.20 L768.41,474.36 L768.89,476.52 L769.35,478.68 L769.81,480.84 L770.27,483.00 L770.71,485.16 L771.15,487.32 L771.58,489.48 L772.00,491.64 L772.42,493.80 L772.82,495.97 L773.22,498.13 L773.62,500.29 L774.00,502.46 L774.38,504.62 L774.75,506.78 L775.12,508.94 L775.47,511.11 L775.82,513.27 L776.16,515.43 L776.50,517.59 L776.83,519.75 L777.15,521.91" stroke="#141213" stroke-width="2.25" fill="none" stroke-linecap="butt" stroke-linejoin="round"/>
<rect x="599.80" y="171.00" width="20.00" height="12.00" fill="#fff"/>
<text transform="translate(600.80,181.60) scale(0.92,1)" text-anchor="start" font-size="12.0" font-weight="normal" fill="#231f20">400</text>
<rect x="578.50" y="203.00" width="19.50" height="16.50" fill="#fff"/>
<text transform="translate(579.10,218.10) scale(0.92,1)" text-anchor="start" font-size="12.0" font-weight="normal" fill="#231f20">350</text>
<text transform="translate(571.10,265.50) scale(0.92,1)" text-anchor="start" font-size="12.0" font-weight="normal" fill="#231f20">300</text>
</svg></body></html>
